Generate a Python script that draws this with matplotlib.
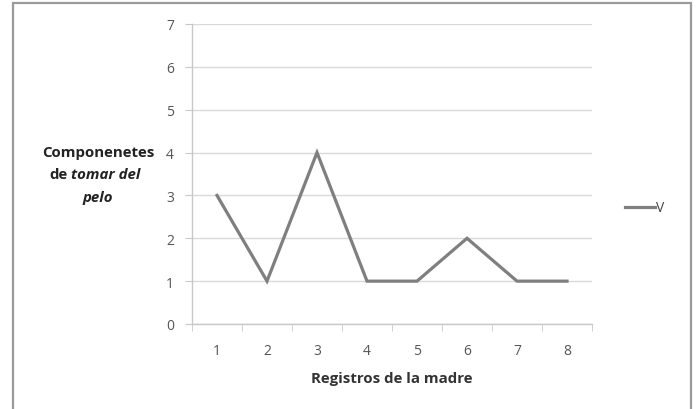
import matplotlib.pyplot as plt
from matplotlib.patches import Rectangle

plt.rcParams['font.family'] = ['Open Sans', 'DejaVu Sans']

registros = [1, 2, 3, 4, 5, 6, 7, 8]
componentes_v = [3, 1, 4, 1, 1, 2, 1, 1]
serie_label = 'V'

W, H = 696, 410
fig = plt.figure(figsize=(W / 100, H / 100), dpi=100, facecolor='white')
ax = fig.add_axes([192 / W, 1 - 325 / H, 400 / W, 300 / H])

ax.plot(registros, componentes_v, color='#7f7f7f', lw=2.3, label=serie_label,
        solid_joinstyle='miter')

ax.set_xlim(0.5, 8.5)
ax.set_ylim(0, 7)
ax.set_yticks(range(0, 8))
ax.set_xticks(registros)
ax.set_xticks([x + 0.5 for x in [0] + registros], minor=True)
ax.yaxis.grid(True, color='#d9d9d9', lw=1.0)
ax.set_axisbelow(True)

for s in ['top', 'right']:
    ax.spines[s].set_visible(False)
for s in ['left', 'bottom']:
    ax.spines[s].set_color('#c8c8c8')
    ax.spines[s].set_linewidth(1.0)

ax.tick_params(axis='y', length=5, color='#c8c8c8', labelsize=10,
               labelcolor='#555555', pad=8)
ax.tick_params(axis='x', which='major', length=0, labelsize=10,
               labelcolor='#555555', pad=14)
ax.tick_params(axis='x', which='minor', length=5, color='#c8c8c8')

ax.set_xlabel('Registros de la madre', fontsize=10.8, fontweight='bold',
              color='#333333', labelpad=9)

# multi-line y label with italic part
tc = '#222222'
fs = 10.8
fig.text(98 / W, 1 - 153 / H, 'Componenetes', ha='center', va='center',
         fontsize=fs, fontweight='bold', color=tc)
fig.text(68 / W, 1 - 175 / H, 'de', ha='right', va='center',
         fontsize=fs, fontweight='bold', color=tc)
fig.text(71 / W, 1 - 175 / H, 'tomar del', ha='left', va='center',
         fontsize=fs, fontweight='bold', style='italic', color=tc)
fig.text(98 / W, 1 - 198 / H, 'pelo', ha='center', va='center',
         fontsize=fs, fontweight='bold', style='italic', color=tc)

leg = ax.legend(loc='center left', bbox_to_anchor=(612 / W, 1 - 209 / H),
                bbox_transform=fig.transFigure, frameon=False, fontsize=10,
                handlelength=2.2, handletextpad=0.1)
for t in leg.get_texts():
    t.set_color('#444444')

fig.patches.append(Rectangle((13 / W, -0.1), (691 - 13) / W, 1.1 - 4 / H,
                             transform=fig.transFigure, fill=False,
                             edgecolor='#9a9a9a', lw=1.6))

fig.savefig('out.png', dpi=100, facecolor='white')
